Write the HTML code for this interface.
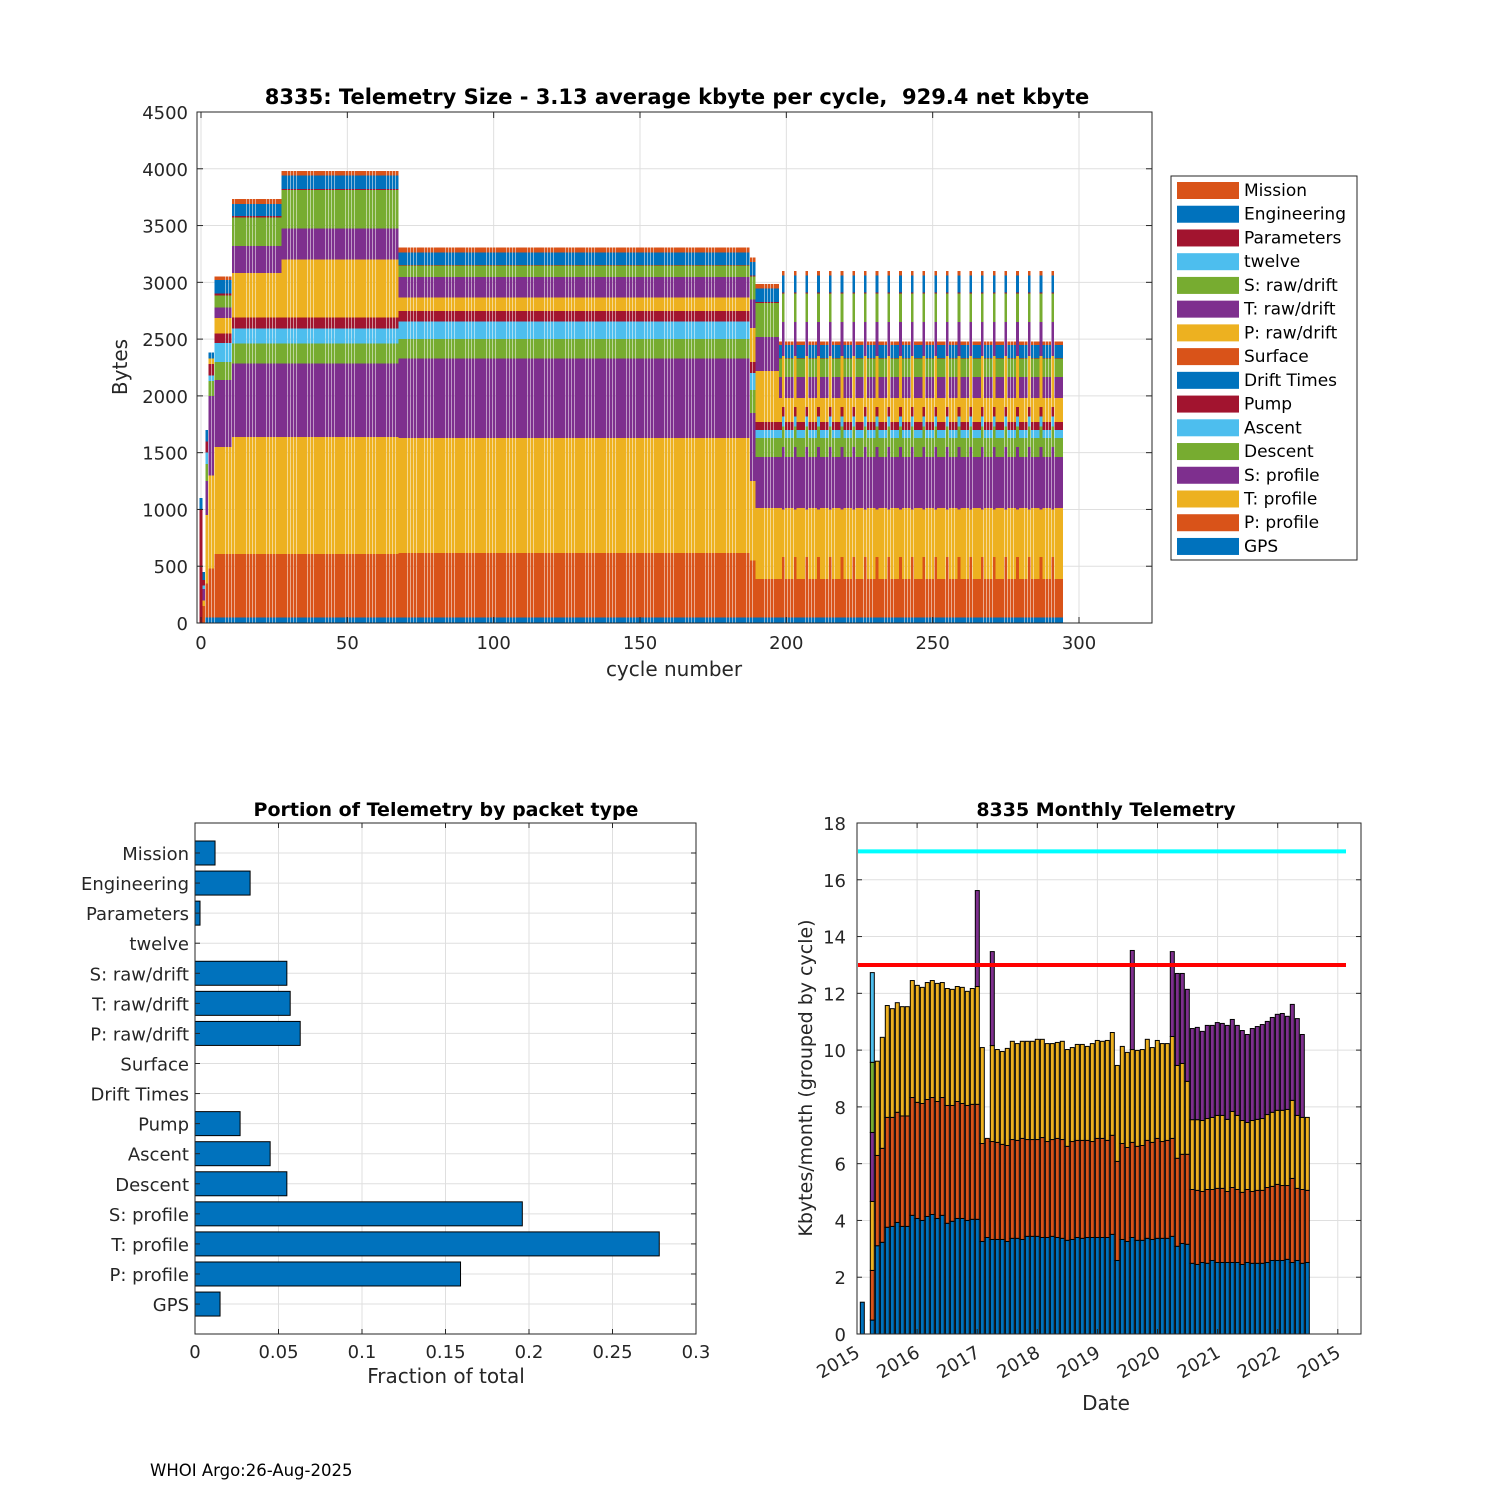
<!DOCTYPE html>
<html><head><meta charset="utf-8"><style>
html,body{margin:0;padding:0;background:#fff}
svg{display:block;font-family:"DejaVu Sans","Liberation Sans",sans-serif}
</style></head><body>
<svg id="root" width="1500" height="1500" viewBox="0 0 1500 1500" xmlns="http://www.w3.org/2000/svg">
<rect x="0" y="0" width="1500" height="1500" fill="#fff"/>
</svg>
<script>
// ---------- TOP CHART DATA (cycle regimes) ----------
const regimeStart = [0,1,2,3,5,11,28,68,188,190,198];
const gpsVals     = [0,0,50,50,50,50,50,50,50,50,50];
const pProfVals   = [0,150,300,430,557,557,557,566,500,337,337];
const tProfVals   = [0,50,600,820,943,1030,1030,1012,700,625,625];
const sProfVals   = [0,100,300,700,590,650,650,700,600,448,448];
const descVals    = [0,0,150,130,160,175,175,175,200,168,168];
const ascVals     = [0,30,100,50,165,130,130,150,150,72,72];
const pumpVals    = [0,50,100,100,85,100,100,95,100,70,70];
const driftVals   = [0,0,0,0,0,0,0,0,0,0,0];
const surfVals    = [0,0,0,0,0,0,0,0,0,0,0];
const pRawVals    = [0,0,0,50,135,390,510,120,300,450,210];
const tRawVals    = [0,0,0,0,95,240,270,180,250,300,185];
const sRawVals    = [0,0,0,0,105,250,340,100,200,300,165];
const twelveVals  = [0,0,0,0,0,0,0,0,0,0,0];
const paramVals   = [1000,0,0,0,15,10,10,5,10,5,5];
const engVals     = [100,70,100,50,120,110,120,110,120,120,115];
const missionVals = [0,0,0,0,30,40,40,45,40,40,30];
const spikeCycles = [199,203,207,211,215,219,223,227,231,235,239,243,247,251,255,259,263,267,271,275,279,283,287,291];
const spikeVals   = [50,530,420,550,180,90,80,0,0,450,300,250,0,10,150,40];
const nCycles = 295;

// ---------- BOTTOM-LEFT DATA ----------
const packetNames = ["Mission","Engineering","Parameters","twelve","S: raw/drift","T: raw/drift","P: raw/drift","Surface","Drift Times","Pump","Ascent","Descent","S: profile","T: profile","P: profile","GPS"];
const packetFrac  = [0.012,0.033,0.003,0,0.055,0.057,0.063,0,0,0.027,0.045,0.055,0.196,0.278,0.159,0.015];
const fracTicks = ["0","0.05","0.1","0.15","0.2","0.25","0.3"];

// ---------- BOTTOM-RIGHT DATA (cumulative tops, kbytes) ----------
const blueTop = [1.12,0,0.49,3.11,3.23,3.76,3.79,3.93,3.79,3.79,4.18,4.07,4.00,4.14,4.21,4.07,4.18,3.90,3.97,4.07,4.07,4.00,4.04,4.04,3.26,3.40,3.33,3.33,3.33,3.26,3.37,3.37,3.33,3.44,3.44,3.44,3.40,3.40,3.44,3.40,3.37,3.30,3.33,3.40,3.37,3.40,3.40,3.40,3.40,3.40,3.51,2.59,3.33,3.26,3.40,3.30,3.30,3.37,3.33,3.37,3.37,3.37,3.44,3.09,3.19,3.16,2.49,2.45,2.52,2.49,2.59,2.52,2.52,2.52,2.52,2.52,2.45,2.52,2.49,2.49,2.49,2.52,2.59,2.59,2.59,2.63,2.52,2.59,2.49,2.52];
const orangeTop = [0,0,2.24,6.29,6.54,7.63,7.63,7.81,7.68,7.68,8.33,8.16,8.12,8.26,8.33,8.19,8.33,8.05,8.05,8.19,8.12,8.05,8.09,8.09,6.71,6.89,6.78,6.75,6.68,6.64,6.85,6.82,6.89,6.85,6.85,6.85,6.92,6.78,6.85,6.89,6.85,6.61,6.78,6.82,6.82,6.82,6.78,6.89,6.89,6.82,7.00,6.08,6.71,6.57,6.75,6.61,6.64,6.82,6.75,6.89,6.78,6.82,6.89,6.19,6.33,6.33,5.09,5.06,5.02,5.09,5.09,5.13,5.13,5.02,5.16,5.09,4.99,5.09,5.02,5.06,5.06,5.16,5.20,5.27,5.23,5.23,5.48,5.13,5.09,5.06];
const yellowTop = [0,0,4.67,9.61,10.45,11.57,11.46,11.67,11.53,11.53,12.45,12.28,12.21,12.38,12.45,12.35,12.38,12.17,12.14,12.24,12.21,12.07,12.17,12.24,10.09,6.89,10.16,10.02,9.95,10.06,10.31,10.23,10.31,10.31,10.31,10.38,10.38,10.23,10.23,10.27,10.31,10.02,10.09,10.20,10.20,10.13,10.23,10.34,10.31,10.34,10.62,9.46,10.13,9.92,10.02,9.99,10.02,10.38,10.09,10.34,10.23,10.23,10.48,9.46,9.53,8.90,7.55,7.55,7.52,7.59,7.63,7.70,7.70,7.56,7.84,7.70,7.52,7.45,7.52,7.56,7.59,7.73,7.81,7.88,7.88,7.91,8.23,7.70,7.63,7.63];
const purpleTop = [0,0,7.10,0,0,0,0,0,0,0,0,0,0,0,0,0,0,0,0,0,0,0,0,15.62,0,0,13.47,0,0,0,0,0,0,0,0,0,0,0,0,0,0,0,0,0,0,0,0,0,0,0,0,0,0,0,13.51,0,0,0,0,0,0,0,13.47,12.70,12.70,12.14,10.76,10.80,10.66,10.87,10.87,10.97,10.94,10.87,11.08,10.87,10.69,10.55,10.76,10.83,10.90,11.01,11.15,11.26,11.29,11.19,11.61,11.11,10.55,0];
const greenTop = [0,0,9.57,0,0,0,0,0,0,0,0,0,0,0,0,0,0,0,0,0,0,0,0,0,0,0,0,0,0,0,0,0,0,0,0,0,0,0,0,0,0,0,0,0,0,0,0,0,0,0,0,0,0,0,0,0,0,0,0,0,0,0,0,0,0,0,0,0,0,0,0,0,0,0,0,0,0,0,0,0,0,0,0,0,0,0,0,0,0,0];
const lblueTop = [0,0,12.73,0,0,0,0,0,0,0,0,0,0,0,0,0,0,0,0,0,0,0,0,0,0,0,0,0,0,0,0,0,0,0,0,0,0,0,0,0,0,0,0,0,0,0,0,0,0,0,0,0,0,0,0,0,0,0,0,0,0,0,0,0,0,0,0,0,0,0,0,0,0,0,0,0,0,0,0,0,0,0,0,0,0,0,0,0,0,0];
const yearLabels = ["2015","2016","2017","2018","2019","2020","2021","2022","2015"];
const limitLines = [17,13];

const NS="http://www.w3.org/2000/svg";
const root=document.getElementById('root');
function el(tag,attrs,parent){const e=document.createElementNS(NS,tag);for(const k in attrs)e.setAttribute(k,attrs[k]);(parent||root).appendChild(e);return e;}
function txt(s,attrs,parent){const e=el('text',attrs,parent);e.textContent=s;return e;}
const AX='#262626', GRID='#dfdfdf';
const C={orange:'#D95319',blue:'#0072BD',red:'#A2142F',lblue:'#4DBEEE',green:'#77AC30',purple:'#7E2F8E',yellow:'#EDB120'};

// ================= TOP CHART =================
const T={l:197,r:1152,t:112,b:623};
const tx=c=>201+(c*(1079-201)/300);
const ty=v=>T.b-(v*(T.b-T.t)/4500);
const gTop=el('g',{});


for(let v=0;v<=4500;v+=500){el('line',{x1:T.l,x2:T.r,y1:ty(v),y2:ty(v),stroke:GRID,'stroke-width':1},gTop);}
for(let c=0;c<=300;c+=50){el('line',{x1:tx(c),x2:tx(c),y1:T.t,y2:T.b,stroke:GRID,'stroke-width':1},gTop);}
const layerArrays=[gpsVals,pProfVals,tProfVals,sProfVals,descVals,ascVals,pumpVals,driftVals,surfVals,pRawVals,tRawVals,sRawVals,twelveVals,paramVals,engVals,missionVals];
const layerColors=[C.blue,C.orange,C.yellow,C.purple,C.green,C.lblue,C.red,C.blue,C.orange,C.yellow,C.purple,C.green,C.lblue,C.red,C.blue,C.orange];
const layerNames=['gps','p-profile','t-profile','s-profile','descent','ascent','pump','drift-times','surface','p-raw-drift','t-raw-drift','s-raw-drift','twelve','parameters','engineering','mission'];
const bw=2.927*0.9;
const gBars=el('g',{'shape-rendering':'crispEdges'},gTop);


for(let c=0;c<nCycles;c++){
  let r=0;for(let i=0;i<regimeStart.length;i++)if(regimeStart[i]<=c)r=i;
  const spike=spikeCycles.indexOf(c)>=0;
  let acc=0;
  for(let L=0;L<layerArrays.length;L++){
    const v=spike?spikeVals[L]:layerArrays[L][r];
    if(!v)continue;
    const y1=ty(acc+v),y0=ty(acc);
    const rc=el('rect',{x:tx(c)-bw/2,y:y1,width:bw,height:y0-y1,fill:layerColors[L]},gBars);
    
    
    acc+=v;
  }
}
el('rect',{x:T.l,y:T.t,width:T.r-T.l,height:T.b-T.t,fill:'none',stroke:AX,'stroke-width':1},gTop);
for(let v=0;v<=4500;v+=500){
  el('line',{x1:T.l,x2:T.l+6,y1:ty(v),y2:ty(v),stroke:AX},gTop);
  el('line',{x1:T.r,x2:T.r-6,y1:ty(v),y2:ty(v),stroke:AX},gTop);
  const t=txt(String(v),{x:188,y:ty(v)+7,'text-anchor':'end','font-size':18,fill:AX},gTop);
  
  
}
for(let c=0;c<=300;c+=50){
  el('line',{x1:tx(c),x2:tx(c),y1:T.b,y2:T.b-6,stroke:AX},gTop);
  el('line',{x1:tx(c),x2:tx(c),y1:T.t,y2:T.t+6,stroke:AX},gTop);
  const t=txt(String(c),{x:tx(c),y:649,'text-anchor':'middle','font-size':18,fill:AX},gTop);
  
  
}
let t1=txt('8335: Telemetry Size - 3.13 average kbyte per cycle,\u00a0\u00a0929.4 net kbyte',{x:677,y:104,'text-anchor':'middle','font-size':21,'font-weight':'bold',fill:'#000'},gTop);


t1=txt('Bytes',{x:127,y:367,'text-anchor':'middle','font-size':20,fill:AX,transform:'rotate(-90 127 367)'},gTop);


t1=txt('cycle number',{x:674,y:676,'text-anchor':'middle','font-size':20,fill:AX},gTop);



// legend
const gLeg=el('g',{},gTop);


el('rect',{x:1171,y:176,width:186,height:384,fill:'#fff',stroke:AX},gLeg);
const legColors=[C.orange,C.blue,C.red,C.lblue,C.green,C.purple,C.yellow,C.orange,C.blue,C.red,C.lblue,C.green,C.purple,C.yellow,C.orange,C.blue];
for(let i=0;i<packetNames.length;i++){
  const y=190+i*23.73;
  const g=el('g',{},gLeg);
  
  
  el('rect',{x:1177,y:y-8,width:62,height:17,fill:legColors[i]},g);
  txt(packetNames[i],{x:1244,y:y+6,'font-size':17,fill:'#000'},g);
}

// ================= BOTTOM-LEFT =================
const B={l:195,r:696,t:823,b:1334};
const bx=v=>B.l+v*(B.r-B.l)/0.3;
const by=i=>853+i*30.07;
const gBL=el('g',{});


for(let k=0;k<fracTicks.length;k++){const x=bx(parseFloat(fracTicks[k]));el('line',{x1:x,x2:x,y1:B.t,y2:B.b,stroke:GRID},gBL);}
for(let i=0;i<packetNames.length;i++){el('line',{x1:B.l,x2:B.r,y1:by(i),y2:by(i),stroke:GRID},gBL);}
for(let i=0;i<packetNames.length;i++){
  if(packetFrac[i]>0){
    const r=el('rect',{x:B.l,y:by(i)-12,width:bx(packetFrac[i])-B.l,height:24,fill:C.blue,stroke:'#000','stroke-width':1},gBL);
    
    
  }
  const t=txt(packetNames[i],{x:189,y:by(i)+7,'text-anchor':'end','font-size':18,fill:AX},gBL);
  
  
  el('line',{x1:B.l,x2:B.l+5,y1:by(i),y2:by(i),stroke:AX},gBL);
  el('line',{x1:B.r,x2:B.r-5,y1:by(i),y2:by(i),stroke:AX},gBL);
}
el('rect',{x:B.l,y:B.t,width:B.r-B.l,height:B.b-B.t,fill:'none',stroke:AX},gBL);
for(let k=0;k<fracTicks.length;k++){
  const x=bx(parseFloat(fracTicks[k]));
  el('line',{x1:x,x2:x,y1:B.b,y2:B.b-5,stroke:AX},gBL);
  el('line',{x1:x,x2:x,y1:B.t,y2:B.t+5,stroke:AX},gBL);
  const t=txt(fracTicks[k],{x:x,y:1358,'text-anchor':'middle','font-size':18,fill:AX},gBL);
  
  
}
t1=txt('Portion of Telemetry by packet type',{x:446,y:816,'text-anchor':'middle','font-size':19,'font-weight':'bold',fill:'#000'},gBL);


t1=txt('Fraction of total',{x:446,y:1383,'text-anchor':'middle','font-size':20,fill:AX},gBL);



// ================= BOTTOM-RIGHT =================
const R={l:857,r:1361,t:823,b:1334};
const ry=v=>R.b-v*(R.b-R.t)/18;
const mx=i=>862.3+5*i;
const yearX=k=>857+k*60.1;
const gBR=el('g',{});


for(let v=0;v<=18;v+=2)el('line',{x1:R.l,x2:R.r,y1:ry(v),y2:ry(v),stroke:GRID},gBR);
for(let k=0;k<yearLabels.length;k++)el('line',{x1:yearX(k),x2:yearX(k),y1:R.t,y2:R.b,stroke:GRID},gBR);
const stackArr=[blueTop,orangeTop,yellowTop,purpleTop,greenTop,lblueTop];
const stackCol=[C.blue,C.orange,C.yellow,C.purple,C.green,C.lblue];
const stackNm=['blue','orange','yellow','purple','green','lightblue'];
for(let i=0;i<blueTop.length;i++){
  let prev=0;
  for(let s=0;s<stackArr.length;s++){
    const top=stackArr[s][i];
    if(!top||top<=prev)continue;
    const r=el('rect',{x:mx(i)-2,y:ry(top),width:4,height:ry(prev)-ry(top),fill:stackCol[s],stroke:'#000','stroke-width':1},gBR);
    
    
    prev=top;
  }
}
const lineCols=['#00FFFF','#FF0000'];
for(let k=0;k<limitLines.length;k++){
  const l=el('line',{x1:858,x2:1346,y1:ry(limitLines[k]),y2:ry(limitLines[k]),stroke:lineCols[k],'stroke-width':4},gBR);
  
  
}
el('rect',{x:R.l,y:R.t,width:R.r-R.l,height:R.b-R.t,fill:'none',stroke:AX},gBR);
for(let v=0;v<=18;v+=2){
  el('line',{x1:R.l,x2:R.l+5,y1:ry(v),y2:ry(v),stroke:AX},gBR);
  el('line',{x1:R.r,x2:R.r-5,y1:ry(v),y2:ry(v),stroke:AX},gBR);
  const t=txt(String(v),{x:846,y:ry(v)+7,'text-anchor':'end','font-size':18,fill:AX},gBR);
  
  
}
for(let k=0;k<yearLabels.length;k++){
  const x=yearX(k);
  el('line',{x1:x,x2:x,y1:R.b,y2:R.b-5,stroke:AX},gBR);
  el('line',{x1:x,x2:x,y1:R.t,y2:R.t+5,stroke:AX},gBR);
  const t=txt(yearLabels[k],{x:x+4,y:1356,'text-anchor':'end','font-size':18,fill:AX,transform:'rotate(-30 '+(x+4)+' 1356)'},gBR);
  
  
}
t1=txt('8335 Monthly Telemetry',{x:1106,y:816,'text-anchor':'middle','font-size':19,'font-weight':'bold',fill:'#000'},gBR);


t1=txt('Kbytes/month (grouped by cycle)',{x:812,y:1078,'text-anchor':'middle','font-size':19,fill:AX,transform:'rotate(-90 812 1078)'},gBR);


t1=txt('Date',{x:1106,y:1410,'text-anchor':'middle','font-size':20,fill:AX},gBR);



t1=txt('WHOI Argo:26-Aug-2025',{x:150,y:1476,'font-size':16.5,fill:'#000'});


</script>
</body></html>
